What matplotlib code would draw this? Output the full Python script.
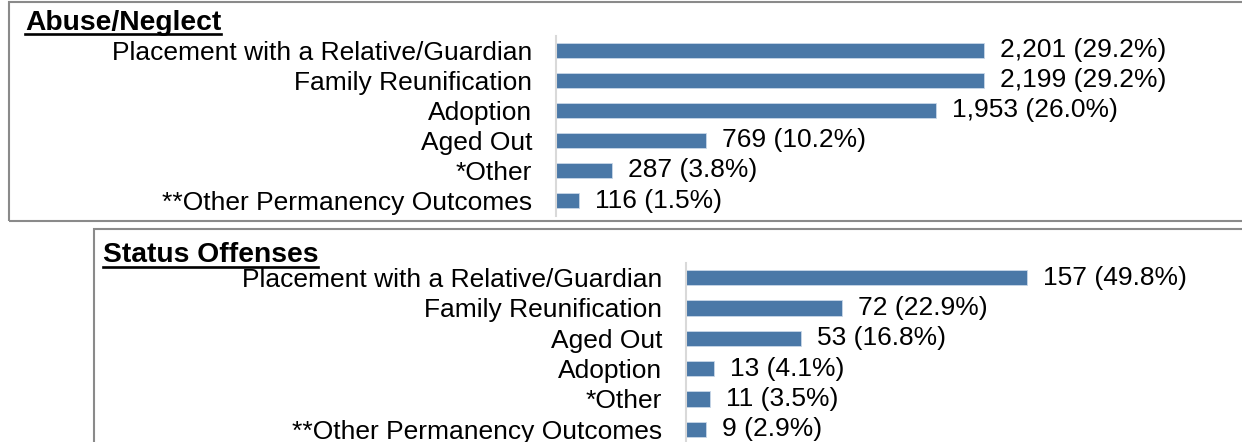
import matplotlib
matplotlib.use("Agg")
from matplotlib import pyplot as plt
from matplotlib.patches import Rectangle
from matplotlib.lines import Line2D

plt.rcParams['font.family'] = ['Liberation Sans', 'DejaVu Sans']

# abuse/neglect panel
abuse_labels = ["Placement with a Relative/Guardian", "Family Reunification", "Adoption",
                "Aged Out", "*Other", "**Other Permanency Outcomes"]
abuse_counts = [2201, 2199, 1953, 769, 287, 116]
abuse_pcts = [29.2, 29.2, 26.0, 10.2, 3.8, 1.5]

# status offenses panel
status_labels = ["Placement with a Relative/Guardian", "Family Reunification", "Aged Out",
                 "Adoption", "*Other", "**Other Permanency Outcomes"]
status_counts = [157, 72, 53, 13, 11, 9]
status_pcts = [49.8, 22.9, 16.8, 4.1, 3.5, 2.9]

W, H = 1242, 442
BAR_COLOR = "#4a78a7"
FS = 19


def px_rect(left, top, right, bottom):
    """ pixel box (from top-left) -> figure fraction rect """
    return [left / W, 1 - bottom / H, (right - left) / W, (bottom - top) / H]


def draw_panel(fig, rect, xmax, labels, counts, pcts):
    """ horizontal bar panel with value labels """
    ax = fig.add_axes(rect)
    ys = list(range(len(labels)))
    ax.barh(ys, counts, height=0.5, color=BAR_COLOR, edgecolor="#c9d7e8", linewidth=0.6)
    ax.set_ylim(len(labels) - 0.5, -0.5)
    ax.set_xlim(0, xmax)
    ax.set_yticks(ys)
    ax.set_yticklabels(labels, fontsize=FS)
    ax.tick_params(axis="y", length=0, pad=17)
    ax.set_xticks([])
    for side in ["top", "right", "bottom"]:
        ax.spines[side].set_visible(False)
    ax.spines["left"].set_color("#d9d9d9")
    ax.spines["left"].set_linewidth(1.5)
    ax.patch.set_alpha(0)
    for y, c, p in zip(ys, counts, pcts):
        ax.annotate(f"{c:,} ({p:.1f}%)", xy=(c, y), xytext=(11.5, 0), textcoords="offset points",
                    va="center", ha="left", fontsize=FS)
    return ax


def title_underlined(fig, x, y, text):
    """ bold title with an underline just below the baseline """
    t = fig.text(x / W, 1 - y / H, text, fontsize=20.3, fontweight="bold", va="baseline", ha="left")
    fig.canvas.draw()
    bb = t.get_window_extent()
    yline = 1 - (y + 4) / H
    fig.add_artist(Line2D([bb.x0 / W, bb.x1 / W], [yline, yline], color="black", linewidth=1.9))
    return t


fig = plt.figure(figsize=(W / 100, H / 100), dpi=100)

# panel frames
fig.add_artist(Rectangle((8.5 / W, 1 - 221 / H), 1300 / W, 219 / H, fill=False,
                         edgecolor="#8a8a8a", linewidth=1.5, transform=fig.transFigure))
fig.add_artist(Rectangle((93.5 / W, 1 - 500 / H), 1300 / W, 271.5 / H, fill=False,
                         edgecolor="#8a8a8a", linewidth=1.5, transform=fig.transFigure))

draw_panel(fig, px_rect(556, 35.5, 1240, 215.5), (1240 - 556) / 0.1945,
           abuse_labels, abuse_counts, abuse_pcts)
draw_panel(fig, px_rect(686, 262.5, 1240, 444.5), (1240 - 686) / 2.17,
           status_labels, status_counts, status_pcts)

title_underlined(fig, 25, 30, "Abuse/Neglect")
title_underlined(fig, 103, 262.5, "Status Offenses")

fig.savefig("out.png", dpi=100)
